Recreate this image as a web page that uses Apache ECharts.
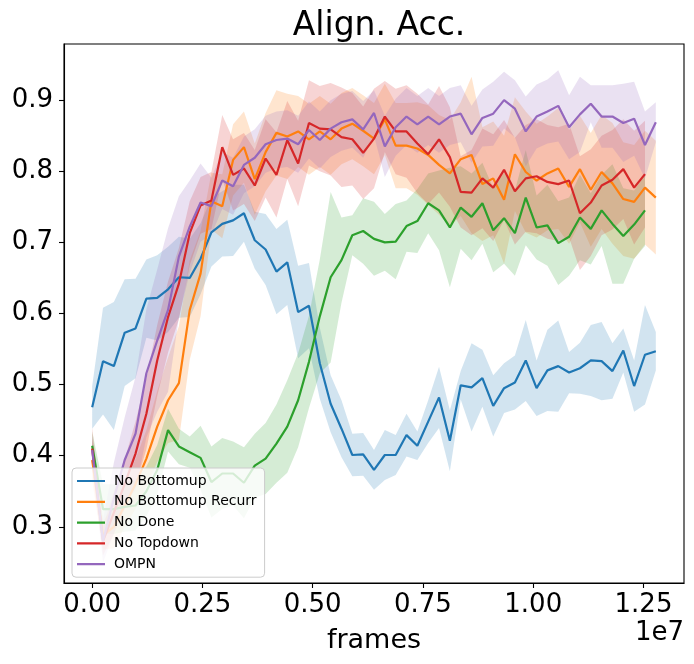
<!DOCTYPE html>
<html>
<head>
<meta charset="utf-8">
<title>Align. Acc.</title>
<script src="https://cdn.jsdelivr.net/npm/echarts@6/dist/echarts.min.js"></script>
<style>
    html, body { margin: 0; padding: 0; background: #fff; }
    #main { width: 694px; height: 664px; }
</style>
</head>
<body>
<div id="main"></div>
<script>
// x: 训练帧数
var frames = [0, 245760, 491520, 737280, 983040, 1228800, 1474560, 1720320, 1966080, 2211840,
    2457600, 2703360, 2949120, 3194880, 3440640, 3686400, 3932160, 4177920, 4423680, 4669440,
    4915200, 5160960, 5406720, 5652480, 5898240, 6144000, 6389760, 6635520, 6881280, 7127040,
    7372800, 7618560, 7864320, 8110080, 8355840, 8601600, 8847360, 9093120, 9338880, 9584640,
    9830400, 10076160, 10321920, 10567680, 10813440, 11059200, 11304960, 11550720, 11796480, 12042240,
    12288000, 12533760, 12779520];

var xTicks = [0, 2500000, 5000000, 7500000, 10000000, 12500000];
var yTicks = [0.3, 0.4, 0.5, 0.6, 0.7, 0.8, 0.9];

var names = ['No Bottomup', 'No Bottomup Recurr', 'No Done', 'No Topdown', 'OMPN'];
var colors = ['#1f77b4', '#ff7f0e', '#2ca02c', '#d62728', '#9467bd'];
var bandColors = ['rgba(31,119,180,0.2)', 'rgba(255,127,14,0.2)', 'rgba(44,160,44,0.2)',
    'rgba(214,39,40,0.2)', 'rgba(148,103,189,0.2)'];

// 均值
var noBottomupMean = [0.468, 0.533, 0.526, 0.573, 0.579, 0.621, 0.622, 0.634, 0.651, 0.650,
    0.677, 0.714, 0.726, 0.731, 0.741, 0.703, 0.690, 0.659, 0.672, 0.602,
    0.611, 0.530, 0.473, 0.438, 0.401, 0.402, 0.380, 0.401, 0.401, 0.429,
    0.414, 0.448, 0.482, 0.421, 0.499, 0.496, 0.509, 0.470, 0.495, 0.503,
    0.534, 0.495, 0.520, 0.526, 0.517, 0.523, 0.534, 0.533, 0.519, 0.548,
    0.498, 0.542, 0.547];
var noBottomupRecurrMean = [0.394, 0.288, 0.300, 0.330, 0.360, 0.396, 0.441, 0.478, 0.502, 0.605,
    0.656, 0.758, 0.751, 0.816, 0.834, 0.789, 0.827, 0.854, 0.849, 0.856,
    0.845, 0.856, 0.845, 0.860, 0.867, 0.857, 0.846, 0.873, 0.836, 0.836,
    0.832, 0.823, 0.809, 0.797, 0.817, 0.823, 0.782, 0.790, 0.760, 0.824,
    0.799, 0.787, 0.797, 0.804, 0.778, 0.803, 0.774, 0.799, 0.783, 0.761,
    0.757, 0.777, 0.763];
var noDoneMean = [0.414, 0.325, 0.325, 0.328, 0.330, 0.350, 0.380, 0.436, 0.413, 0.405,
    0.397, 0.363, 0.375, 0.375, 0.362, 0.386, 0.396, 0.417, 0.441, 0.478,
    0.532, 0.596, 0.651, 0.675, 0.710, 0.716, 0.705, 0.700, 0.701, 0.723,
    0.730, 0.755, 0.745, 0.721, 0.749, 0.736, 0.755, 0.717, 0.734, 0.713,
    0.763, 0.721, 0.724, 0.699, 0.708, 0.735, 0.719, 0.745, 0.726, 0.709,
    0.725, 0.745];
var noTopdownMean = [0.410, 0.280, 0.320, 0.360, 0.403, 0.459, 0.534, 0.595, 0.642, 0.713,
    0.752, 0.759, 0.834, 0.795, 0.804, 0.780, 0.818, 0.795, 0.844, 0.811,
    0.868, 0.860, 0.859, 0.848, 0.845, 0.826, 0.846, 0.877, 0.856, 0.856,
    0.839, 0.824, 0.845, 0.820, 0.771, 0.770, 0.790, 0.777, 0.802, 0.772,
    0.790, 0.793, 0.785, 0.782, 0.787, 0.741, 0.756, 0.780, 0.788, 0.803,
    0.777, 0.796];
var ompnMean = [0.408, 0.280, 0.340, 0.394, 0.431, 0.516, 0.562, 0.605, 0.680, 0.722,
    0.756, 0.751, 0.787, 0.779, 0.809, 0.819, 0.838, 0.844, 0.846, 0.838,
    0.858, 0.844, 0.860, 0.869, 0.873, 0.859, 0.882, 0.835, 0.862, 0.877,
    0.866, 0.877, 0.866, 0.877, 0.881, 0.852, 0.875, 0.881, 0.900, 0.888,
    0.856, 0.877, 0.884, 0.892, 0.862, 0.880, 0.895, 0.877, 0.877, 0.868,
    0.874, 0.837, 0.869];

// 标准差（阴影带宽度）
var noBottomupStd = [0.030, 0.075, 0.090, 0.075, 0.070, 0.055, 0.060, 0.060, 0.057, 0.055,
    0.050, 0.048, 0.046, 0.050, 0.040, 0.040, 0.050, 0.060, 0.060, 0.065,
    0.060, 0.050, 0.040, 0.040, 0.030, 0.030, 0.028, 0.035, 0.028, 0.030,
    0.020, 0.030, 0.043, 0.043, 0.020, 0.062, 0.040, 0.043, 0.035, 0.038,
    0.057, 0.039, 0.057, 0.064, 0.029, 0.036, 0.050, 0.055, 0.039, 0.031,
    0.036, 0.070, 0.027];
var noBottomupRecurrStd = [0.030, 0.020, 0.030, 0.030, 0.035, 0.040, 0.050, 0.060, 0.080, 0.070,
    0.060, 0.040, 0.045, 0.050, 0.050, 0.050, 0.055, 0.060, 0.060, 0.050,
    0.050, 0.050, 0.050, 0.050, 0.050, 0.050, 0.050, 0.050, 0.060, 0.060,
    0.065, 0.070, 0.070, 0.075, 0.080, 0.110, 0.080, 0.080, 0.090, 0.080,
    0.085, 0.080, 0.080, 0.085, 0.080, 0.075, 0.080, 0.080, 0.085, 0.080,
    0.080, 0.080, 0.080];
var noDoneStd = [0.020, 0.035, 0.035, 0.035, 0.035, 0.035, 0.035, 0.030, 0.025, 0.022,
    0.045, 0.050, 0.050, 0.045, 0.050, 0.045, 0.050, 0.055, 0.065, 0.066,
    0.065, 0.080, 0.120, 0.060, 0.028, 0.046, 0.052, 0.040, 0.053, 0.036,
    0.045, 0.042, 0.056, 0.084, 0.058, 0.061, 0.057, 0.059, 0.064, 0.060,
    0.067, 0.045, 0.057, 0.059, 0.055, 0.060, 0.050, 0.050, 0.084, 0.067,
    0.048, 0.050];
var noTopdownStd = [0.030, 0.020, 0.030, 0.035, 0.045, 0.050, 0.050, 0.050, 0.050, 0.045,
    0.040, 0.040, 0.045, 0.050, 0.050, 0.050, 0.055, 0.060, 0.055, 0.060,
    0.060, 0.060, 0.065, 0.070, 0.065, 0.065, 0.070, 0.050, 0.060, 0.065,
    0.070, 0.070, 0.075, 0.070, 0.050, 0.060, 0.070, 0.075, 0.070, 0.075,
    0.075, 0.080, 0.080, 0.080, 0.080, 0.080, 0.075, 0.070, 0.070, 0.070,
    0.080, 0.075];
var ompnStd = [0.020, 0.030, 0.050, 0.060, 0.080, 0.090, 0.100, 0.115, 0.085, 0.065,
    0.055, 0.040, 0.040, 0.040, 0.040, 0.040, 0.040, 0.040, 0.040, 0.040,
    0.040, 0.040, 0.040, 0.040, 0.040, 0.040, 0.032, 0.043, 0.040, 0.040,
    0.040, 0.040, 0.040, 0.040, 0.040, 0.040, 0.040, 0.045, 0.040, 0.040,
    0.049, 0.045, 0.045, 0.050, 0.045, 0.053, 0.026, 0.044, 0.044, 0.055,
    0.052, 0.047, 0.028];

var means = [noBottomupMean, noBottomupRecurrMean, noDoneMean, noTopdownMean, ompnMean];
var stds = [noBottomupStd, noBottomupRecurrStd, noDoneStd, noTopdownStd, ompnStd];

var FONT = 'DejaVu Sans';
// 图例图标：细横线（上下加极小点以固定包围盒）
var LINE_ICON = 'path://M0,0L0.01,0L0.01,0.01Z M0,5.9L28,5.9L28,8.1L0,8.1Z M27.99,14L28,14L28,13.99Z';

var series = [];
// 阴影带：mean ± std，用 custom 多边形绘制
means.forEach(function (m, k) {
    var s = stds[k];
    var bandData = m.map(function (v, i) { return [frames[i], v - s[i], v + s[i]]; });
    series.push({
        name: 'band_' + k,
        type: 'custom',
        silent: true,
        clip: true,
        z: 1,
        encode: { x: 0, y: [1, 2] },
        data: bandData,
        renderItem: function (params, api) {
            if (params.dataIndex !== 0) return;
            var pts = [];
            var i;
            for (i = 0; i < bandData.length; i++) {
                pts.push(api.coord([bandData[i][0], bandData[i][2]]));
            }
            for (i = bandData.length - 1; i >= 0; i--) {
                pts.push(api.coord([bandData[i][0], bandData[i][1]]));
            }
            return {
                type: 'polygon',
                shape: { points: pts },
                style: { fill: bandColors[k], stroke: null }
            };
        }
    });
});
// 均值曲线
means.forEach(function (m, k) {
    series.push({
        name: names[k],
        type: 'line',
        symbol: 'none',
        showSymbol: false,
        z: 3,
        color: colors[k],
        lineStyle: { width: 2.2, color: colors[k] },
        data: m.map(function (v, i) { return [frames[i], v]; })
    });
});

var chart = echarts.init(document.getElementById('main'));
var option = {
    animation: false,
    backgroundColor: '#fff',
    title: {
        text: 'Align. Acc.',
        left: 374,
        textAlign: 'center',
        top: 5,
        textStyle: { fontFamily: FONT, fontSize: 33, fontWeight: 'normal', color: '#000' }
    },
    grid: {
        left: 64, right: 10, top: 44, bottom: 81,
        show: true,
        borderColor: '#000',
        borderWidth: 1.1,
        backgroundColor: 'transparent'
    },
    legend: {
        orient: 'vertical',
        left: 72,
        top: 468,
        data: names.map(function (n, k) {
            return { name: n, icon: LINE_ICON, itemStyle: { color: colors[k] } };
        }),
        itemWidth: 28,
        itemHeight: 14,
        itemGap: 6.8,
        padding: [6, 8, 6, 5],
        backgroundColor: 'rgba(255,255,255,0.8)',
        borderColor: '#cccccc',
        borderWidth: 1,
        borderRadius: 4,
        selectedMode: false,
        textStyle: { fontFamily: FONT, fontSize: 14, color: '#000', padding: [0, 0, 0, 4] }
    },
    xAxis: {
        type: 'value',
        min: -638976,
        max: 13418496,
        name: 'frames',
        nameLocation: 'middle',
        nameGap: 44,
        nameTextStyle: { fontFamily: FONT, fontSize: 27, color: '#000' },
        splitLine: { show: false },
        axisLine: { show: true, onZero: false, lineStyle: { color: '#000', width: 1.1 } },
        axisTick: { show: true, length: 5, customValues: xTicks, lineStyle: { color: '#000', width: 1.1 } },
        axisLabel: {
            customValues: xTicks,
            margin: 9,
            fontFamily: FONT, fontSize: 26, color: '#000',
            formatter: function (v) { return (v / 1e7).toFixed(2); }
        }
    },
    yAxis: {
        type: 'value',
        min: 0.221,
        max: 0.979,
        splitLine: { show: false },
        axisLine: { show: true, onZero: false, lineStyle: { color: '#000', width: 1.1 } },
        axisTick: { show: true, length: 5, customValues: yTicks, lineStyle: { color: '#000', width: 1.1 } },
        axisLabel: {
            customValues: yTicks,
            margin: 11,
            fontFamily: FONT, fontSize: 26, color: '#000',
            formatter: function (v) { return v.toFixed(1); }
        }
    },
    graphic: [{
        type: 'text',
        right: 10,
        top: 620,
        style: { text: '1e7', fontFamily: FONT, fontSize: 26, fill: '#000' }
    }],
    series: series
};
chart.setOption(option);
</script>
</body>
</html>
